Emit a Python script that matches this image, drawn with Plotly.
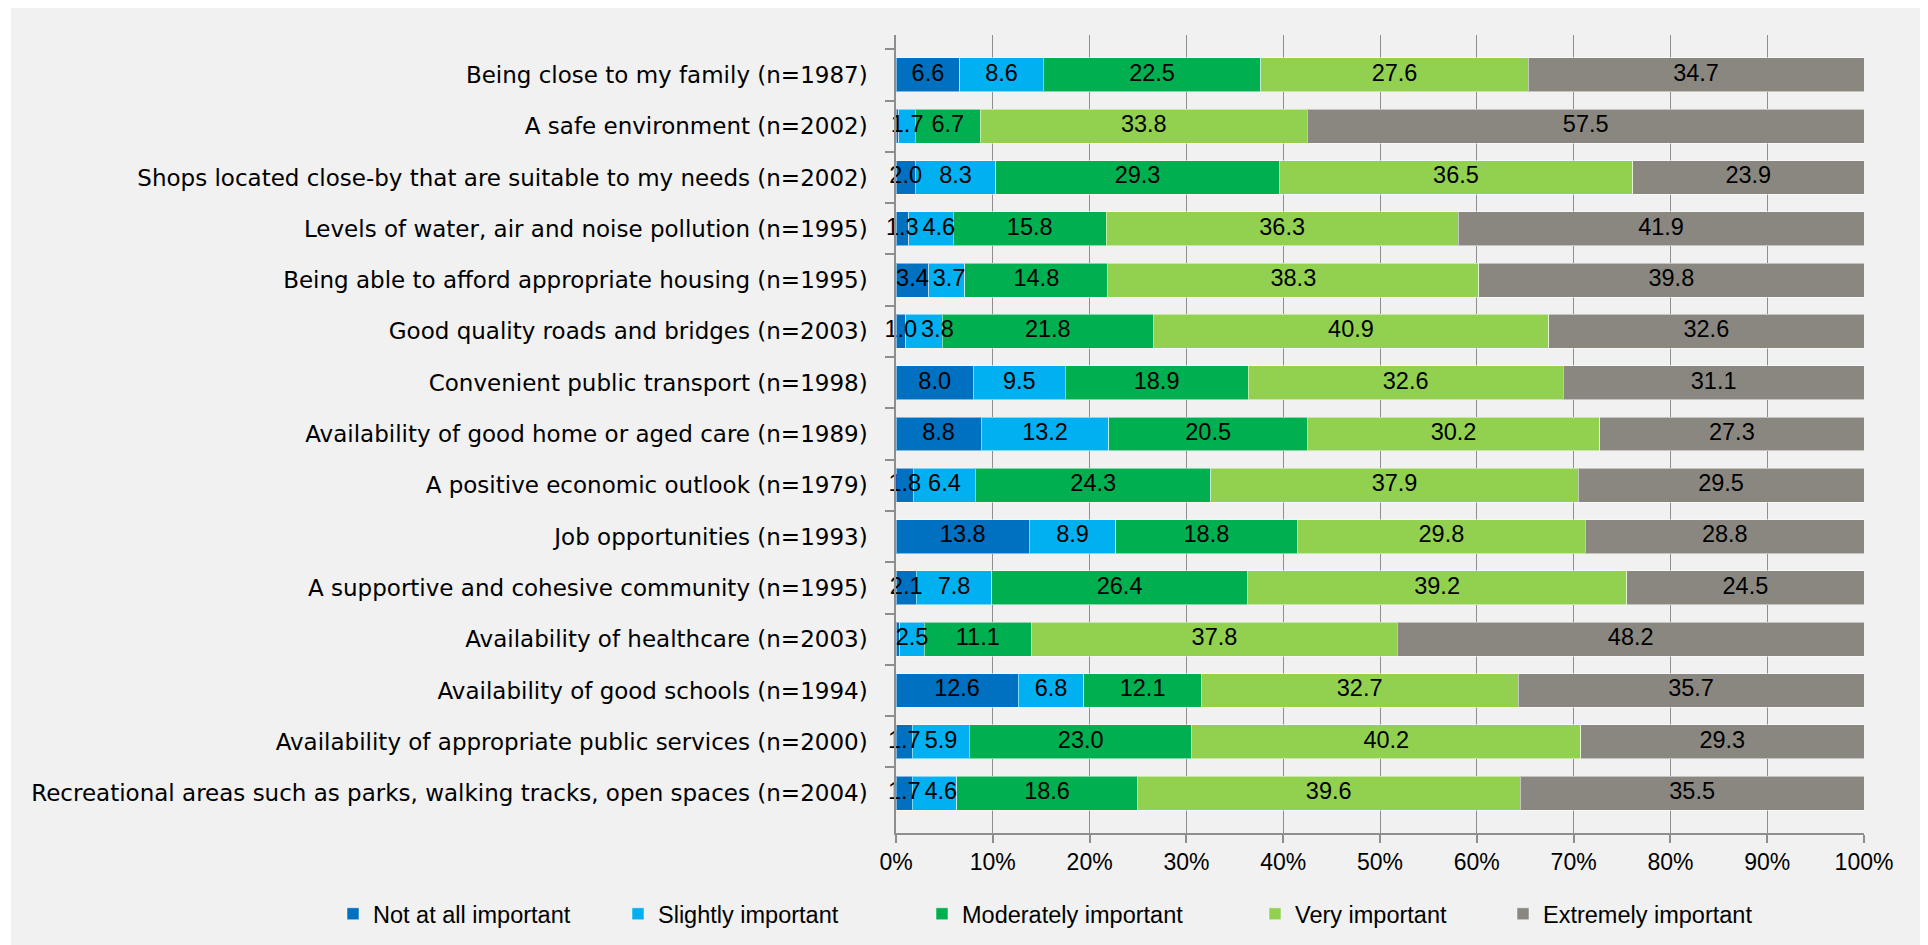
import plotly.graph_objects as go

categories = [
    "Being close to my family (n=1987)",
    "A safe environment (n=2002)",
    "Shops located close-by that are suitable to my needs (n=2002)",
    "Levels of water, air and noise pollution (n=1995)",
    "Being able to afford appropriate housing (n=1995)",
    "Good quality roads and bridges (n=2003)",
    "Convenient public transport (n=1998)",
    "Availability of good home or aged care (n=1989)",
    "A positive economic outlook (n=1979)",
    "Job opportunities (n=1993)",
    "A supportive and cohesive community (n=1995)",
    "Availability of healthcare (n=2003)",
    "Availability of good schools (n=1994)",
    "Availability of appropriate public services (n=2000)",
    "Recreational areas such as parks, walking tracks, open spaces (n=2004)",
]

not_at_all = [6.6, 0.3, 2.0, 1.3, 3.4, 1.0, 8.0, 8.8, 1.8, 13.8, 2.1, 0.4, 12.6, 1.7, 1.7]
slightly = [8.6, 1.7, 8.3, 4.6, 3.7, 3.8, 9.5, 13.2, 6.4, 8.9, 7.8, 2.5, 6.8, 5.9, 4.6]
moderately = [22.5, 6.7, 29.3, 15.8, 14.8, 21.8, 18.9, 20.5, 24.3, 18.8, 26.4, 11.1, 12.1, 23.0, 18.6]
very = [27.6, 33.8, 36.5, 36.3, 38.3, 40.9, 32.6, 30.2, 37.9, 29.8, 39.2, 37.8, 32.7, 40.2, 39.6]
extremely = [34.7, 57.5, 23.9, 41.9, 39.8, 32.6, 31.1, 27.3, 29.5, 28.8, 24.5, 48.2, 35.7, 29.3, 35.5]

series_names = ["Not at all important", "Slightly important", "Moderately important",
                "Very important", "Extremely important"]
series_values = [not_at_all, slightly, moderately, very, extremely]
series_colors = ["#0070C0", "#00B0F0", "#00B050", "#92D050", "#8A8781"]

x_tick_vals = [0, 10, 20, 30, 40, 50, 60, 70, 80, 90, 100]
x_tick_text = ["0%", "10%", "20%", "30%", "40%", "50%", "60%", "70%", "80%", "90%", "100%"]

BG = "#F0F1F0"
GRID = "#8E8E8E"
ARIAL = "Arial, Liberation Sans"
LABEL_SIZE = 23.5
# figure sits inside the page's 8px body margin
W, H = 1920, 937
ML, MR, MT, MB = 888, 64, 27, 112
PW, PH = W - ML - MR, H - MT - MB

# left edge (figure px) of each legend entry, Excel-style spacing
legend_left_px = [325, 610, 914, 1247, 1495]
legend_ids = ["legend", "legend2", "legend3", "legend4", "legend5"]

fig = go.Figure()
for name, vals, col, lid in zip(series_names, series_values, series_colors, legend_ids):
    fig.add_trace(go.Bar(
        y=categories, x=vals, name=name, orientation="h", legend=lid,
        marker=dict(color=col, line=dict(color="rgba(255,255,255,0.5)", width=1)),
        hoverinfo="skip",
    ))


def label_width_pct(txt):
    # approximate Arial advance widths (digits 0.556em, '.' 0.278em), in axis % units
    px = sum(0.278 if c == "." else 0.556 for c in txt) * LABEL_SIZE
    return px / (PW / 100.0)


# data labels at segment centres (normalised like a 100% stacked bar),
# nudged right when they would collide with the previous label in the row
lx, ly, lt = [], [], []
for i, cat in enumerate(categories):
    total = sum(s[i] for s in series_values)
    cum = 0.0
    prev_right = None
    for s in series_values:
        v = s[i]
        mid = (cum + v / 2) / total * 100
        cum += v
        txt = f"{v:.1f}" if v >= 1.0 else ""
        if txt:
            wpct = label_width_pct(txt)
            if prev_right is not None and mid - wpct / 2 < prev_right + 0.4:
                mid = prev_right + 0.4 + wpct / 2
            prev_right = mid + wpct / 2
        lx.append(mid)
        ly.append(cat)
        lt.append(txt)
fig.add_trace(go.Scatter(
    x=lx, y=ly, text=lt, mode="text", textposition="middle center",
    textfont=dict(family=ARIAL, size=LABEL_SIZE, color="#000000"),
    showlegend=False, hoverinfo="skip", cliponaxis=False,
))

legend_y = (H - MB - 906) / PH
legend_layout = {}
for lid, lpx in zip(legend_ids, legend_left_px):
    legend_layout[lid] = dict(
        orientation="h", x=(lpx - ML) / PW, xanchor="left", y=legend_y, yanchor="middle",
        font=dict(family=ARIAL, size=23.5, color="#000000"),
        bgcolor="rgba(0,0,0,0)",
    )

fig.update_layout(
    width=W, height=H,
    barmode="stack", barnorm="percent", bargap=0.34,
    paper_bgcolor=BG, plot_bgcolor=BG,
    margin=dict(l=ML, r=MR, t=MT, b=MB, pad=0, autoexpand=False),
    font=dict(family=ARIAL, size=23, color="#000000"),
    xaxis=dict(range=[0, 100], tickmode="array", tickvals=x_tick_vals, ticktext=x_tick_text,
               showgrid=True, gridcolor=GRID, gridwidth=1.3, zeroline=False, showline=True,
               linecolor=GRID, linewidth=1.5, ticks="outside", ticklen=8,
               tickcolor=GRID, tickwidth=1.5,
               tickfont=dict(family=ARIAL, size=23)),
    yaxis=dict(autorange="reversed", tickson="boundaries", ticks="outside",
               ticklen=9, tickcolor=GRID, tickwidth=1.5, showline=True,
               linecolor=GRID, linewidth=1.5, showgrid=False, ticklabelstandoff=22,
               tickfont=dict(family="DejaVu Sans", size=23)),
    showlegend=True,
    **legend_layout,
)

# thin white strip at the left edge of the image
fig.add_shape(type="rect", xref="paper", yref="paper", x0=-ML / PW, x1=(3 - ML) / PW,
              y0=-MB / PH, y1=(H - MB) / PH, fillcolor="#FFFFFF", line_width=0, layer="below")

fig.write_html("out.html")
